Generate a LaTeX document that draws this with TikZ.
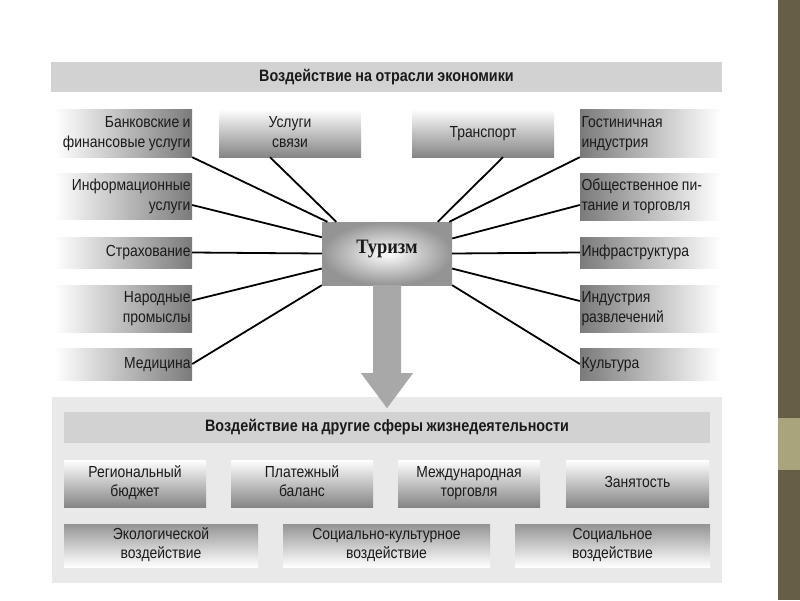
\documentclass[tikz,border=0pt]{standalone}
\usepackage{fontspec}
\setmainfont{Liberation Sans}[FakeStretch=0.87, WordSpace=0.9]
\newfontfamily\tourfont{Liberation Serif}[FakeStretch=0.9]
\usetikzlibrary{calc}
\definecolor{stripdark}{HTML}{665E46}
\definecolor{striplight}{HTML}{A9A47C}
\definecolor{headgray}{HTML}{D2D2D2}
\definecolor{areagray}{HTML}{E9E9E9}
\definecolor{arrowgray}{HTML}{A8A8A8}
\definecolor{txt}{HTML}{1A1A1A}
\newcommand\ctext[1]{\begin{tabular}{@{}c@{}}#1\end{tabular}}
\begin{document}
\begin{tikzpicture}[x=1pt,y=-1pt,
  every node/.style={font=\fontsize{16}{20}\selectfont, text=txt},
  strutted/.style={execute at begin node=\strut, execute at end node=\strut},
  basebox/.style={draw=none, inner sep=0pt, minimum width=137pt},
  lbox/.style={basebox, strutted, left color=white, right color=black!52, text width=134pt, align=flush right},
  rbox/.style={basebox, strutted, minimum width=140pt, left color=black!52, right color=white, text width=137pt, align=flush left},
  tbox/.style={basebox, minimum width=142pt, minimum height=48pt, top color=white, bottom color=black!48},
  tboxb/.style={tbox, minimum height=47pt, font=\fontsize{16}{18.5}\selectfont},
  bbox/.style={basebox, top color=black!42, bottom color=white, minimum height=43pt, font=\fontsize{16}{18.5}\selectfont},
  header/.style={fill=headgray, inner sep=0pt, font=\bfseries\fontsize{16.5}{18}\selectfont},
  link/.style={line width=1.8pt, black}
]
\useasboundingbox (0,0) rectangle (800,600);
% side stripe
\fill[stripdark] (778,0) rectangle (800,600);
\fill[striplight] (778,418) rectangle (800,470);

% top header
\node[header, minimum width=671pt, minimum height=30pt] (head1) at (386.5,77) {Воздействие на отрасли экономики};

% left boxes
\node[lbox, minimum height=48pt] (bank) at (123.5,133) {Банковские и\\финансовые услуги};
\node[lbox, minimum height=46pt] (info) at (123.5,196) {Информационные\\услуги};
\node[lbox, minimum height=31pt] (strah) at (123.5,252.5) {Страхование};
\node[lbox, minimum height=47pt] (narod) at (123.5,308.5) {Народные\\промыслы};
\node[lbox, minimum height=32pt] (medic) at (123.5,364) {Медицина};

% top middle boxes
\node[tbox] (svyaz) at (290,133) {\ctext{Услуги\\связи}};
\node[tbox] (transp) at (483,133) {\ctext{Транспорт}};

% right boxes
\node[rbox, minimum height=48pt] (gost) at (650,133) {Гостиничная\\индустрия};
\node[rbox, minimum height=47pt] (obsh) at (650,196.5) {Общественное пи-\\тание и торговля};
\node[rbox, minimum height=31pt] (infra) at (650,252.5) {Инфраструктура};
\node[rbox, minimum height=47pt] (indust) at (650,308.5) {Индустрия\\развлечений};
\node[rbox, minimum height=32pt] (kult) at (650,364) {Культура};

% bottom area
\fill[areagray] (52,397) rectangle (722,583);
\node[header, minimum width=646pt, minimum height=31pt] (head2) at (387,427.5) {Воздействие на другие сферы жизнедеятельности};

\node[tboxb] (region) at (135,483.5) {\ctext{Региональный\\бюджет}};
\node[tboxb] (plat) at (302,483.5) {\ctext{Платежный\\баланс}};
\node[tboxb] (mezhd) at (469,483.5) {\ctext{Международная\\торговля}};
\node[tboxb, minimum width=143pt] (zan) at (637.5,483.5) {\ctext{Занятость}};

\node[bbox, minimum width=194pt] (ekol) at (161,545.5) {\ctext{Экологической\\воздействие}};
\node[bbox, minimum width=207pt] (sockult) at (386.5,545.5) {\ctext{Социально-культурное\\воздействие}};
\node[bbox, minimum width=195pt] (soc) at (612.5,545.5) {\ctext{Социальное\\воздействие}};

% central node
\node[draw=none, inner sep=0pt, minimum width=130pt, minimum height=63pt,
      inner color=white, outer color=black!42,
      font=\tourfont\bfseries\fontsize{20.5}{22}\selectfont] (tour) at (387,253.5) {\raisebox{5pt}[\height][\depth]{Туризм}};

% arrow
\fill[arrowgray] (tour.south) ++(-14,0) -- ++(0,88) -- ++(-12,0) -- ++(26,35) -- ++(26,-35) -- ++(-12,0) -- ++(0,-88) -- cycle;

% links left
\draw[link] (bank.south east) -- (tour.152);
\draw[link] ($(svyaz.south)+(-20,0)$) -- (tour.148);
\draw[link] ($(info.east)+(0,9)$) -- (tour.166);
\draw[link] (strah.east) -- (tour.180);
\draw[link] ($(narod.east)+(0,-8)$) -- (tour.193);
\draw[link] (medic.east) -- (tour.south west);
% links right
\draw[link] ($(transp.south)+(20,0)$) -- (tour.32);
\draw[link] (gost.south west) -- (tour.27);
\draw[link] ($(obsh.west)+(0,8.5)$) -- (tour.13);
\draw[link] (infra.west) -- (tour.0);
\draw[link] ($(indust.west)+(0,-7.5)$) -- (tour.-13);
\draw[link] (kult.west) -- (tour.south east);
\end{tikzpicture}
\end{document}
